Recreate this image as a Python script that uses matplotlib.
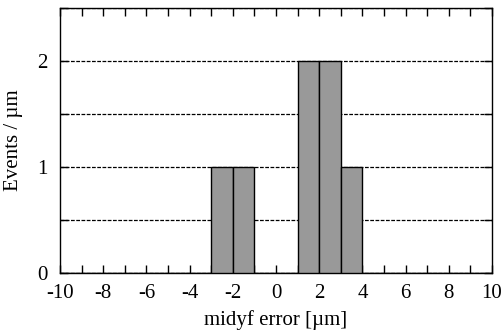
import numpy as np
import matplotlib
matplotlib.use("Agg")
import matplotlib.pyplot as plt
from matplotlib.ticker import MultipleLocator

plt.rcParams['font.family'] = ['Liberation Serif', 'DejaVu Serif']
plt.rcParams['axes.unicode_minus'] = False

# histogram of midyf error, 1 um bins
bin_edges = np.arange(-10, 11, 1)
counts = [0, 0, 0, 0, 0, 0, 0, 1, 1, 0, 0, 2, 2, 1, 0, 0, 0, 0, 0, 0]

fig = plt.figure(figsize=(5.03, 3.30), dpi=100)
ax = fig.add_axes([60 / 503, 1 - 273 / 330, 432 / 503, 265 / 330])

ax.bar(bin_edges[:-1], counts, width=1, align='edge',
       color='#999999', edgecolor='black', linewidth=1, zorder=3)

ax.set_xlim(-10, 10)
ax.set_ylim(0, 2.5)
ax.xaxis.set_major_locator(MultipleLocator(2))
ax.xaxis.set_minor_locator(MultipleLocator(1))
ax.yaxis.set_major_locator(MultipleLocator(1))
ax.yaxis.set_minor_locator(MultipleLocator(0.5))
ax.tick_params(which='both', direction='in', top=True, right=True,
               labelsize=15, width=1, length=6)
ax.tick_params(axis='x', which='major', pad=8)
ax.tick_params(axis='y', which='major', pad=9)
ax.grid(axis='y', which='both', linestyle=(0, (3, 1.2)), color='black',
        linewidth=0.9, zorder=1)

ax.set_xlabel('midyf error [µm]', fontsize=15, labelpad=5)
ax.set_ylabel('Events / µm', fontsize=15, labelpad=10)
for s in ax.spines.values():
    s.set_linewidth(1)

fig.savefig('out.png', dpi=100)
